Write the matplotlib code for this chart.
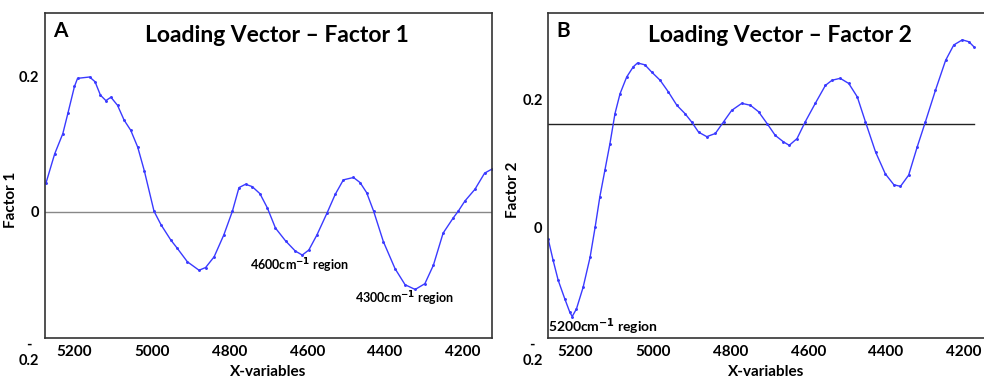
import matplotlib.pyplot as plt

# Panel A: loading vector, factor 1
wn_a = [5273, 5251, 5230, 5217, 5200, 5192, 5161, 5147, 5133, 5119, 5106, 5089,
        5072, 5055, 5037, 5020, 4995, 4977, 4952, 4935, 4909, 4879, 4862, 4840,
        4815, 4793, 4776, 4759, 4742, 4722, 4703, 4682, 4656, 4631, 4613, 4596,
        4575, 4549, 4528, 4507, 4481, 4464, 4447, 4429, 4404, 4374, 4348, 4322,
        4297, 4275, 4250, 4224, 4211, 4194, 4168, 4143, 4124]
f1 = [0.0435, 0.086, 0.116, 0.146, 0.186, 0.198, 0.200, 0.193, 0.173, 0.165,
      0.170, 0.158, 0.136, 0.121, 0.096, 0.061, 0.001, -0.019, -0.0415, -0.054,
      -0.074, -0.0865, -0.0825, -0.0665, -0.034, 0.001, 0.036, 0.041, 0.0375,
      0.027, 0.006, -0.024, -0.043, -0.058, -0.064, -0.0565, -0.034, -0.0015,
      0.026, 0.0475, 0.051, 0.0435, 0.0285, 0.001, -0.044, -0.084, -0.108,
      -0.115, -0.1065, -0.079, -0.0315, -0.009, 0.001, 0.016, 0.0335, 0.0575,
      0.0635]

# Panel B: loading vector, factor 2
wn_b = [5269, 5256, 5243, 5226, 5213, 5207, 5196, 5179, 5161, 5148, 5136, 5123,
        5110, 5097, 5084, 5067, 5050, 5039, 5020, 5003, 4981, 4960, 4938, 4917,
        4900, 4882, 4861, 4839, 4818, 4797, 4771, 4749, 4728, 4706, 4685, 4664,
        4649, 4629, 4608, 4582, 4556, 4539, 4518, 4496, 4474, 4453, 4427, 4402,
        4380, 4363, 4342, 4320, 4299, 4273, 4247, 4226, 4204, 4187, 4174]
f2 = [-0.017, -0.051, -0.082, -0.111, -0.132, -0.1385, -0.1265, -0.093, -0.046,
      0.001, 0.048, 0.0895, 0.131, 0.178, 0.209, 0.235, 0.251, 0.257, 0.254,
      0.243, 0.230, 0.212, 0.191, 0.178, 0.165, 0.149, 0.142, 0.147, 0.165,
      0.183, 0.194, 0.191, 0.181, 0.1625, 0.144, 0.134, 0.1285, 0.139, 0.165,
      0.194, 0.222, 0.230, 0.233, 0.225, 0.204, 0.165, 0.118, 0.084, 0.067,
      0.0645, 0.082, 0.126, 0.165, 0.2145, 0.261, 0.285, 0.293, 0.290, 0.282]
ref_b = 0.161  # horizontal reference line as drawn in panel B

xticks = [5200, 5000, 4800, 4600, 4400, 4200]

plt.rcParams['font.family'] = ['Lato', 'DejaVu Sans']
plt.rcParams['font.weight'] = 'bold'

fig = plt.figure(figsize=(9.84, 3.8), dpi=100)
ax_a = fig.add_axes([0.0457, 0.1105, 0.4543, 0.8555])
ax_b = fig.add_axes([0.557, 0.1105, 0.4435, 0.8555])

line_kw = dict(color='#3a3aff', lw=1.0, marker='.', markersize=2.2)


def style_axes(ax, ylim, ylabel, ylab_pos, xlim, title, title_x, letter):
    ax.set_xlim(*xlim)
    ax.set_ylim(*ylim)
    ax.set_xticks(xticks)
    ax.set_xticklabels([str(t) for t in xticks])
    ax.set_yticks([ylim[0], 0, 0.2])
    labels = ax.set_yticklabels(['-\n0.2', '0', '0.2'])
    labels[0].set_verticalalignment('top')
    labels[0].set_multialignment('center')
    ax.tick_params(length=0, labelsize=10.5, pad=4)
    ax.tick_params(axis='x', labelsize=11, pad=5)
    ax.set_xlabel('X-variables', fontsize=11, fontweight='bold')
    ax.xaxis.set_label_coords(0.5, -0.083)
    ax.set_ylabel(ylabel, fontsize=11, fontweight='bold')
    ax.yaxis.set_label_coords(*ylab_pos)
    ax.text(title_x, 0.93, title, transform=ax.transAxes, ha='center', va='center',
            fontsize=16.5, fontweight='bold')
    ax.text(0.018, 0.945, letter, transform=ax.transAxes, ha='left', va='center',
            fontsize=15, fontweight='bold')
    for s in ax.spines.values():
        s.set_color('#333333')
        s.set_linewidth(1.2)


ax_a.axhline(0, color='#888888', lw=1.0)
ax_a.plot(wn_a, f1, **line_kw)
style_axes(ax_a, (-0.187, 0.295), 'Factor 1', (-0.06, 0.425), (5276, 4124),
           'Loading Vector \u2013 Factor 1', 0.519, 'A')
ax_a.text(4620, -0.080, '4600cm$^{-1}$ region', ha='center', va='center', fontsize=9)
ax_a.text(4350, -0.128, '4300cm$^{-1}$ region', ha='center', va='center', fontsize=9)

ax_b.plot([wn_b[0], wn_b[-1]], [ref_b, ref_b], color='#222222', lw=1.0)
ax_b.plot(wn_b, f2, **line_kw)
style_axes(ax_b, (-0.172, 0.335), 'Factor 2', (-0.064, 0.455), (5269, 4147),
           'Loading Vector \u2013 Factor 2', 0.532, 'B')
ax_b.spines['right'].set_visible(False)
ax_b.text(5268, -0.155, '5200cm$^{-1}$ region', ha='left', va='center', fontsize=10)

fig.savefig('out.png', dpi=100)
